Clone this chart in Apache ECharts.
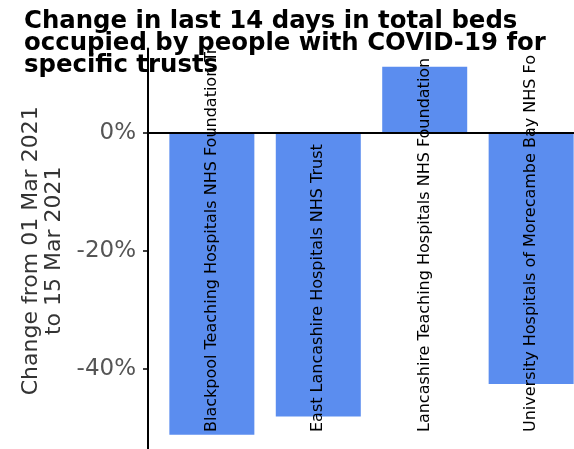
<!DOCTYPE html>
<html>
<head>
<meta charset="utf-8">
<script src="https://cdn.jsdelivr.net/npm/echarts@6/dist/echarts.min.js"></script>
<style>html,body{margin:0;padding:0;background:#fff;}#c{width:574px;height:449px;}</style>
</head>
<body>
<div id="c"></div>
<script>
const categories = [
  "Blackpool Teaching Hospitals NHS Foundation Trust",
  "East Lancashire Hospitals NHS Trust",
  "Lancashire Teaching Hospitals NHS Foundation Trust",
  "University Hospitals of Morecambe Bay NHS Foundation Trust"
];
const changePct = [-51.2, -48.1, 11.2, -42.6];
const yTicks = [-40, -20, 0];
const titleText = "Change in last 14 days in total beds\noccupied by people with COVID-19 for\nspecific trusts";
const yName = "Change from 01 Mar 2021\nto 15 Mar 2021";

const FONT = "DejaVu Sans";
const chart = echarts.init(document.getElementById('c'), null, {renderer: 'canvas'});
const xMin = -0.6, xMax = categories.length - 1 + 0.6;
chart.setOption({
  animation: false,
  backgroundColor: '#fff',
  title: {
    text: titleText,
    left: 19, top: 6, z: 20,
    textStyle: {fontFamily: FONT, fontWeight: 'bold', fontSize: 24.4, lineHeight: 22, color: '#000'}
  },
  grid: {left: 148, width: 447, top: 48.6, height: 404.4, containLabel: false, outerBoundsMode: 'none'},
  xAxis: [
    {
      type: 'value', min: xMin, max: xMax, position: 'bottom', z: 5,
      axisLine: {onZero: true, lineStyle: {color: '#000', width: 2}},
      axisTick: {show: false}, axisLabel: {show: false}, splitLine: {show: false}
    },
    {
      type: 'value', min: xMin, max: xMax, position: 'bottom', z: 10,
      axisLine: {show: false, onZero: false},
      axisTick: {show: false}, splitLine: {show: false},
      axisLabel: {
        show: true, inside: true, rotate: 90, margin: 21,
        customValues: categories.map((c, i) => i),
        formatter: v => categories[Math.round(v)],
        fontFamily: FONT, fontSize: 16, color: '#000',
        width: 388, overflow: 'truncate', ellipsis: ''
      }
    }
  ],
  yAxis: {
    type: 'value', min: -54.3, max: 14.3,
    name: yName, nameLocation: 'middle', nameGap: 76,
    nameTextStyle: {fontFamily: FONT, fontSize: 22, color: '#333', lineHeight: 23},
    axisLine: {show: true, onZero: false, lineStyle: {color: '#000', width: 2}},
    axisTick: {show: true, length: 5, customValues: yTicks, lineStyle: {color: '#000', width: 1.5}},
    axisLabel: {customValues: yTicks, formatter: '{value}%', fontFamily: FONT, fontSize: 23, color: '#555', margin: 12},
    splitLine: {show: false}
  },
  series: [{
    type: 'bar', xAxisIndex: 0,
    data: changePct.map((v, i) => [i, v]),
    barWidth: 85,
    itemStyle: {color: '#5b8def'},
    z: 1
  }]
});
</script>
</body>
</html>
